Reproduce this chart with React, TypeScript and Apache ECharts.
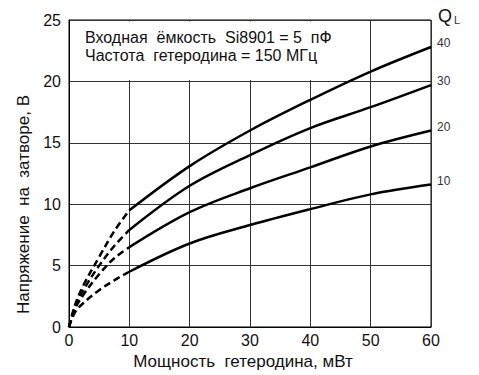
import React, { useEffect, useRef } from "react";
import * as echarts from "echarts";

const xMin = 0;
const xMax = 60;
const yMin = 0;
const yMax = 25;
const qLabels = ["40", "30", "20", "10"];
const dashX = [0, 1, 2.5, 5, 7.5, 10];
const dashQ40 = [0, 1.8, 3.5, 5.7, 7.8, 9.5];
const dashQ30 = [0, 1.6, 3.1, 5.0, 6.6, 7.9];
const dashQ20 = [0, 1.5, 2.7, 4.3, 5.6, 6.5];
const dashQ10 = [0, 1.2, 2.0, 3.0, 3.8, 4.5];
const solidX = [10, 20, 30, 40, 50, 60];
const solidQ40 = [9.5, 13.1, 16.0, 18.5, 20.8, 22.8];
const solidQ30 = [7.9, 11.5, 14.0, 16.2, 17.9, 19.7];
const solidQ20 = [6.5, 9.35, 11.3, 13.0, 14.7, 16.0];
const solidQ10 = [4.5, 6.8, 8.3, 9.6, 10.8, 11.6];
const title1 = "Входная  ёмкость  Si8901 = 5  пФ";
const title2 = "Частота  гетеродина = 150 МГц";
const xName = "Мощность  гетеродина, мВт";
const yName = "Напряжение  на  затворе, В";
const boxRight = 48;

const FONT = "'Liberation Sans', Arial, sans-serif";

const pairs = (xs: number[], ys: number[]) => xs.map((x, i) => [x, ys[i]]);

export default function App() {
  const ref = useRef<HTMLDivElement>(null);
  useEffect(() => {
    if (!ref.current) return;
    const chart = echarts.init(ref.current, null, { renderer: "svg" });
    const dashSets = [dashQ40, dashQ30, dashQ20, dashQ10];
    const solidSets = [solidQ40, solidQ30, solidQ20, solidQ10];
    const series: any[] = [];
    qLabels.forEach((q, i) => {
      series.push({
        type: "line",
        name: "d" + q,
        data: pairs(dashX, dashSets[i]),
        smooth: 0.35,
        symbol: "none",
        silent: true,
        lineStyle: { color: "#000", width: 2.5, type: [7, 4] },
      });
      series.push({
        type: "line",
        name: q,
        data: pairs(solidX, solidSets[i]),
        smooth: 0.35,
        symbol: "none",
        silent: true,
        lineStyle: { color: "#000", width: 2.5 },
        endLabel: {
          show: true,
          formatter: q,
          color: "#333",
          fontSize: 12,
          fontFamily: FONT,
          offset: [-2, -4],
        },
      });
    });
    chart.setOption({
      animation: false,
      textStyle: { fontFamily: FONT },
      grid: {
        left: 69,
        right: 48,
        top: 20,
        bottom: 48,
        show: true,
        borderColor: "#000",
        borderWidth: 1,
        backgroundColor: "transparent",
      },
      xAxis: {
        type: "value",
        min: xMin,
        max: xMax,
        interval: 10,
        name: xName,
        nameLocation: "middle",
        nameGap: 24,
        nameTextStyle: { fontSize: 17, color: "#111", fontFamily: FONT, padding: [0, 14, 0, 0] },
        axisLine: { show: true, lineStyle: { color: "#000", width: 1 } },
        axisTick: { show: false },
        axisLabel: { fontSize: 16, color: "#111", margin: 5, fontFamily: FONT },
        splitLine: { show: true, lineStyle: { color: "#333", width: 1 } },
      },
      yAxis: {
        type: "value",
        min: yMin,
        max: yMax,
        interval: 5,
        name: yName,
        nameLocation: "middle",
        nameGap: 36,
        nameTextStyle: { fontSize: 17, color: "#111", fontFamily: FONT, padding: [0, 62, 0, 0] },
        axisLine: { show: true, lineStyle: { color: "#000", width: 1 } },
        axisTick: { show: false },
        axisLabel: { fontSize: 16, color: "#111", margin: 8, fontFamily: FONT },
        splitLine: { show: true, lineStyle: { color: "#333", width: 1 } },
      },
      series,
    });
    const tl = chart.convertToPixel({ gridIndex: 0 }, [xMin, yMax]) as number[];
    const br = chart.convertToPixel({ gridIndex: 0 }, [boxRight, 20]) as number[];
    const tr = chart.convertToPixel({ gridIndex: 0 }, [xMax, yMax]) as number[];
    chart.setOption({
      graphic: [
        {
          type: "rect",
          z: 1,
          silent: true,
          shape: { x: tl[0] + 1.5, y: tl[1] + 1.5, width: br[0] - tl[0] - 1.5, height: br[1] - tl[1] - 3 },
          style: { fill: "#fff" },
        },
        {
          type: "text",
          z: 3,
          x: tl[0] + 16,
          y: tl[1] + 9,
          style: { text: title1, fontSize: 16, fontFamily: FONT, fill: "#111" },
        },
        {
          type: "text",
          z: 3,
          x: tl[0] + 16,
          y: tl[1] + 27,
          style: { text: title2, fontSize: 16, fontFamily: FONT, fill: "#111" },
        },
        {
          type: "text",
          z: 3,
          x: tr[0] + 7,
          y: tr[1] - 13,
          style: {
            text: "{q|Q}{l|L}",
            rich: {
              q: { fontSize: 18, fontFamily: FONT, fill: "#111", verticalAlign: "bottom" },
              l: { fontSize: 11, fontFamily: FONT, fill: "#333", verticalAlign: "bottom", padding: [0, 0, 0, 2] },
            },
          },
        },
      ],
    });
    return () => chart.dispose();
  }, []);
  return (
    <div
      ref={ref}
      style={{ position: "fixed", left: 0, top: 0, width: 479, height: 375, background: "#fff" }}
    />
  );
}
